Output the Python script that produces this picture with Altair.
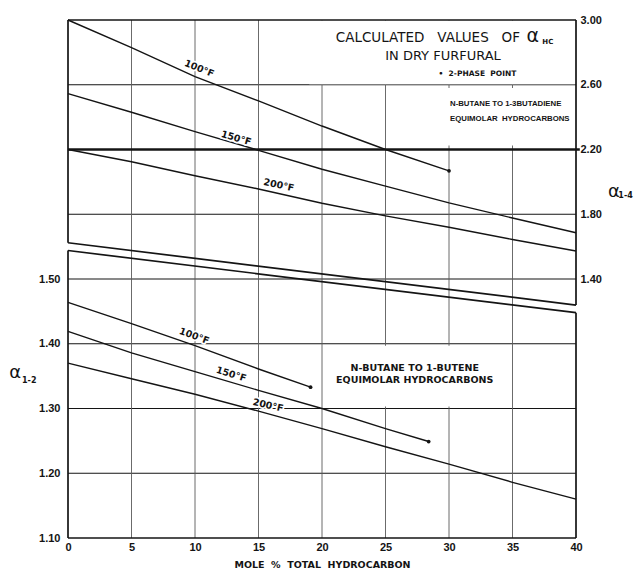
import altair as alt
import pandas as pd

# ---------------- data ----------------
# mole % total hydrocarbon
X_GRID = [0, 5, 10, 15, 20, 25, 30, 35, 40]

# n-butane to 1,3-butadiene, alpha 1-4 (right-hand scale)
BD100_X = [0, 5, 10, 15, 20, 25, 30]
BD100 = [3.00, 2.83, 2.65, 2.50, 2.345, 2.20, 2.068]
BD150_X = X_GRID
BD150 = [2.545, 2.43, 2.31, 2.195, 2.078, 1.974, 1.870, 1.777, 1.686]
BD200_X = X_GRID
BD200 = [2.20, 2.124, 2.038, 1.956, 1.868, 1.790, 1.720, 1.644, 1.573]

# n-butane to 1-butene, alpha 1-2 (left-hand scale)
BU100_X = [0, 5, 10, 15, 19.1]
BU100 = [1.464, 1.431, 1.397, 1.361, 1.333]
BU150_X = [0, 5, 10, 15, 20, 25, 28.4]
BU150 = [1.419, 1.386, 1.357, 1.328, 1.300, 1.269, 1.249]
BU200_X = X_GRID
BU200 = [1.370, 1.346, 1.322, 1.296, 1.269, 1.241, 1.214, 1.186, 1.160]

TEMPS = ["100°F", "150°F", "200°F"]

# curve label placement (x, alpha, rotation)
BD_LABEL_X = [10.33, 13.24, 16.6]
BD_LABEL_Y = [2.70, 2.27, 1.98]
BD_LABEL_ANGLE = [22, 16, 12]
BU_LABEL_X = [9.94, 12.85, 15.75]
BU_LABEL_Y = [1.412, 1.353, 1.305]
BU_LABEL_ANGLE = [20, 17, 13]

# axis ticks
LEFT_TICKS = [1.10, 1.20, 1.30, 1.40, 1.50]
RIGHT_TICKS = [1.40, 1.80, 2.20, 2.60, 3.00]
GRID_Y = [1.20, 1.30, 1.40, 1.50, 1.60, 1.70, 1.80]   # on the alpha 1-2 scale
GRID_X = [5, 10, 15, 20, 25, 30, 35]

LOWER_DOMAIN = [1.10, 1.90]
UPPER_DOMAIN = [-0.20, 3.00]

# broken frame: upper panel bottom edge / lower panel top edge
UP_EDGE = [1.624, 1.239]   # alpha 1-4 at x=0 and x=40
LO_EDGE = [1.544, 1.448]   # alpha 1-2 at x=0 and x=40

INK = "#141414"
FONT = "DejaVu Sans"
NUM_FONT = "Liberation Sans"
SP = "\u00a0"  # non-collapsing space for the spaced-out lettering


def spaced(words, n):
    return (SP * n).join(words)


# ---------------- scales & axes ----------------
xs = alt.Scale(domain=[0, 40], nice=False, zero=False)
x_axis = alt.Axis(values=X_GRID, format="d",
                  title=spaced(["MOLE", "%", "TOTAL", "HYDROCARBON"], 2),
                  grid=False, domain=False, ticks=False, labelFlush=False,
                  labelOverlap=False, labelPadding=3, labelFont=NUM_FONT,
                  labelFontWeight="bold", labelFontSize=11, labelColor=INK,
                  titleFont=FONT, titleFontWeight="bold", titleFontSize=9.5,
                  titleColor=INK, titlePadding=7)
lo_scale = alt.Scale(domain=LOWER_DOMAIN, nice=False, zero=False)
up_scale = alt.Scale(domain=UPPER_DOMAIN, nice=False, zero=False)
lo_axis = alt.Axis(orient="left", values=LEFT_TICKS, format=".2f", title=None,
                   grid=False, domain=False, ticks=False, labelOverlap=False,
                   labelFlush=False, labelPadding=8, labelFont=NUM_FONT,
                   labelFontWeight="bold", labelFontSize=11, labelColor=INK)
up_axis = alt.Axis(orient="right", values=RIGHT_TICKS, format=".2f", title=None,
                   grid=False, domain=False, ticks=False, labelOverlap=False,
                   labelFlush=False, labelPadding=4, labelFont=NUM_FONT,
                   labelFontWeight="bold", labelFontSize=11, labelColor=INK)


def X(field="x"):
    return alt.X(f"{field}:Q", scale=xs, axis=x_axis)


def Ylo():
    return alt.Y("v:Q", scale=lo_scale, axis=lo_axis)


def Yup():
    return alt.Y("v:Q", scale=up_scale, axis=up_axis)


def curves(xs_list, ys_list):
    rows = []
    for t, xx, yy in zip(TEMPS, xs_list, ys_list):
        rows += [{"x": a, "v": b, "temp": t} for a, b in zip(xx, yy)]
    return pd.DataFrame(rows)


def text_layer(df, Y, halo=False, **kw):
    enc = dict(x=X(), y=Y(), text="t:N")
    base = alt.Chart(df)
    if halo:
        under = base.mark_text(fill="white", stroke="white", strokeWidth=3.5,
                               strokeJoin="round", **kw).encode(**enc)
        over = base.mark_text(color=INK, **kw).encode(**enc)
        return [under, over]
    return [base.mark_text(color=INK, **kw).encode(**enc)]


def segs(rows):
    return pd.DataFrame(rows, columns=["x", "x2", "v", "v2"])


# ---------------- lower panel: alpha 1-2 ----------------
grid_h = pd.DataFrame({"x": 0, "x2": 40, "v": GRID_Y})
grid_v = pd.DataFrame({"x": GRID_X, "v": LOWER_DOMAIN[0], "v2": LOWER_DOMAIN[1]})
lo_box = segs([[20.4, 33.3, 1.303, 1.397]])
lo_frame = segs([
    [0, 40, 1.10, 1.10],
    [0, 0, 1.10, LO_EDGE[0]],
    [40, 40, 1.10, LO_EDGE[1]],
    [0, 40, LO_EDGE[0], LO_EDGE[1]],
])
lo_curves = curves([BU100_X, BU150_X, BU200_X], [BU100, BU150, BU200])
lo_points = pd.DataFrame({"x": [BU100_X[-1], BU150_X[-1]], "v": [BU100[-1], BU150[-1]]})
lo_labels = pd.DataFrame({"x": BU_LABEL_X, "v": BU_LABEL_Y, "t": TEMPS})

lower_layers = [
    alt.Chart(grid_h).mark_rule(color=INK, strokeWidth=1.1).encode(x=X(), x2="x2:Q", y=Ylo()),
    alt.Chart(grid_v).mark_rule(color="#5a5a5a", strokeWidth=0.9).encode(x=X(), y=Ylo(), y2="v2:Q"),
    alt.Chart(lo_box).mark_rect(color="white").encode(x=X(), x2="x2:Q", y=Ylo(), y2="v2:Q"),
    alt.Chart(lo_frame).mark_rule(color=INK, strokeWidth=1.7).encode(x=X(), x2="x2:Q", y=Ylo(), y2="v2:Q"),
    alt.Chart(lo_curves).mark_line(color=INK, strokeWidth=1.4).encode(x=X(), y=Ylo(), detail="temp:N"),
    alt.Chart(lo_points).mark_circle(color=INK, opacity=1, size=14).encode(x=X(), y=Ylo()),
]
for i in range(3):
    lower_layers += text_layer(lo_labels.iloc[[i]], Ylo, halo=True, font=FONT,
                               fontWeight="bold", fontSize=9.5,
                               angle=BU_LABEL_ANGLE[i], baseline="middle")
lower_layers += text_layer(pd.DataFrame({"x": [27.3, 27.3], "v": [1.362, 1.344],
                                         "t": ["N-BUTANE TO 1-BUTENE", "EQUIMOLAR HYDROCARBONS"]}),
                           Ylo, font=FONT, fontWeight="bold", fontSize=9.5,
                           align="center", baseline="middle")
lower_layers += text_layer(pd.DataFrame({"x": [-4.15], "v": [1.355], "t": ["α"]}),
                           Ylo, font=FONT, fontSize=18, align="center", baseline="middle")
lower_layers += text_layer(pd.DataFrame({"x": [-3.05], "v": [1.343], "t": ["1-2"]}),
                           Ylo, font=FONT, fontWeight="bold", fontSize=8,
                           align="center", baseline="middle")

# ---------------- upper panel: alpha 1-4 ----------------
up_boxes = segs([[19.0, 39.92, 2.603, 2.997], [29.5, 39.9, 2.225, 2.58]])
up_frame = segs([
    [0, 40, 3.00, 3.00],
    [0, 0, UP_EDGE[0], 3.00],
    [40, 40, UP_EDGE[1], 3.00],
    [0, 40, UP_EDGE[0], UP_EDGE[1]],
])
bold_line = pd.DataFrame({"x": [0], "x2": [40.3], "v": [2.20]})
up_curves = curves([BD100_X, BD150_X, BD200_X], [BD100, BD150, BD200])
up_points = pd.DataFrame({"x": [BD100_X[-1]], "v": [BD100[-1]]})
up_labels = pd.DataFrame({"x": BD_LABEL_X, "v": BD_LABEL_Y, "t": TEMPS})

upper_layers = [
    alt.Chart(up_boxes).mark_rect(color="white").encode(x=X(), x2="x2:Q", y=Yup(), y2="v2:Q"),
    alt.Chart(up_frame).mark_rule(color=INK, strokeWidth=1.7).encode(x=X(), x2="x2:Q", y=Yup(), y2="v2:Q"),
    alt.Chart(bold_line).mark_rule(color=INK, strokeWidth=2.7).encode(x=X(), x2="x2:Q", y=Yup()),
    alt.Chart(up_curves).mark_line(color=INK, strokeWidth=1.4).encode(x=X(), y=Yup(), detail="temp:N"),
    alt.Chart(up_points).mark_circle(color=INK, opacity=1, size=14).encode(x=X(), y=Yup()),
]
for i in range(3):
    upper_layers += text_layer(up_labels.iloc[[i]], Yup, halo=True, font=FONT,
                               fontWeight="bold", fontSize=9.5,
                               angle=BD_LABEL_ANGLE[i], baseline="middle")
upper_layers += text_layer(pd.DataFrame({"x": [35.59], "v": [2.887],
                                         "t": [spaced(["CALCULATED", "VALUES", "OF"], 3)]}),
                           Yup, font=FONT, fontSize=13.5, align="right", baseline="middle")
upper_layers += text_layer(pd.DataFrame({"x": [36.1], "v": [2.862], "t": ["α"]}),
                           Yup, font=FONT, fontSize=19, align="left", baseline="alphabetic")
upper_layers += text_layer(pd.DataFrame({"x": [37.35], "v": [2.850], "t": ["HC"]}),
                           Yup, font=FONT, fontWeight="bold", fontSize=7, align="left",
                           baseline="alphabetic")
upper_layers += text_layer(pd.DataFrame({"x": [29.53], "v": [2.753], "t": ["IN DRY FURFURAL"]}),
                           Yup, font=FONT, fontSize=13, align="center", baseline="alphabetic")
upper_layers += text_layer(pd.DataFrame({"x": [32.24], "v": [2.654],
                                         "t": [spaced(["•", "2-PHASE", "POINT"], 2)]}),
                           Yup, font=FONT, fontWeight="bold", fontSize=7.5, align="center",
                           baseline="alphabetic")
upper_layers += text_layer(pd.DataFrame({"x": [30.08, 30.08], "v": [2.483, 2.39],
                                         "t": ["N-BUTANE TO 1-3BUTADIENE",
                                               spaced(["EQUIMOLAR", "HYDROCARBONS"], 2)]}),
                           Yup, font=NUM_FONT, fontWeight="bold", fontSize=7.8,
                           align="left", baseline="middle")
upper_layers += text_layer(pd.DataFrame({"x": [42.98], "v": [1.937], "t": ["α"]}),
                           Yup, font=FONT, fontSize=18, align="center", baseline="middle")
upper_layers += text_layer(pd.DataFrame({"x": [43.9], "v": [1.913], "t": ["1-4"]}),
                           Yup, font=FONT, fontWeight="bold", fontSize=8,
                           align="center", baseline="middle")

chart = (
    alt.layer(alt.layer(*lower_layers), alt.layer(*upper_layers))
    .resolve_scale(y="independent")
    .properties(width=508, height=518,
                padding={"left": 68, "top": 20, "right": 63, "bottom": 34},
                autosize=alt.AutoSizeParams(type="none"), background="white")
    .configure_view(strokeWidth=0)
)

chart.save("out.html", embed_options={"renderer": "svg", "actions": False})
